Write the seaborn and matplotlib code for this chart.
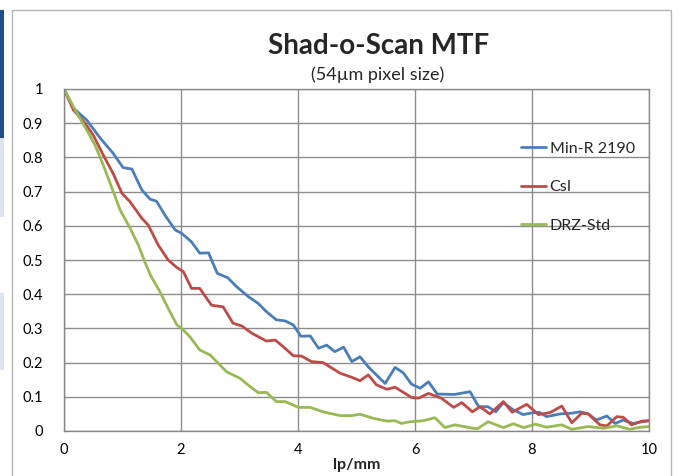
import numpy as np
import pandas as pd
import matplotlib
matplotlib.use("Agg")
import matplotlib.pyplot as plt
from matplotlib.patches import Rectangle
import seaborn as sns

# ---- data ----
minr_x = [0.00, 0.16, 0.39, 0.62, 0.84, 1.01, 1.16, 1.33, 1.47, 1.58, 1.73, 1.90, 2.01, 2.18, 2.32,
          2.47, 2.62, 2.80, 2.95, 3.15, 3.32, 3.46, 3.63, 3.78, 3.92, 4.05, 4.21, 4.35, 4.49, 4.63,
          4.78, 4.92, 5.06, 5.20, 5.34, 5.49, 5.66, 5.80, 5.94, 6.09, 6.23, 6.38, 6.68, 6.94, 7.09,
          7.25, 7.38, 7.51, 7.68, 7.85, 7.97, 8.12, 8.25, 8.48, 8.68, 8.82, 8.96, 9.10, 9.28, 9.42,
          9.56, 9.73, 9.88, 10.0]
minr_y = [1.000, 0.944, 0.909, 0.856, 0.812, 0.770, 0.766, 0.705, 0.678, 0.672, 0.630, 0.588, 0.578,
          0.553, 0.520, 0.521, 0.461, 0.448, 0.422, 0.393, 0.373, 0.349, 0.325, 0.322, 0.310, 0.277,
          0.278, 0.242, 0.251, 0.232, 0.245, 0.203, 0.217, 0.188, 0.164, 0.139, 0.186, 0.170, 0.137,
          0.125, 0.144, 0.108, 0.107, 0.115, 0.071, 0.071, 0.056, 0.083, 0.062, 0.048, 0.052, 0.055,
          0.042, 0.050, 0.052, 0.056, 0.050, 0.032, 0.044, 0.022, 0.032, 0.022, 0.027, 0.030]

csi_x = [0.00, 0.16, 0.36, 0.50, 0.67, 0.84, 0.99, 1.13, 1.33, 1.44, 1.61, 1.78, 1.93, 2.04, 2.18,
         2.32, 2.52, 2.72, 2.89, 3.04, 3.21, 3.46, 3.61, 3.75, 3.92, 4.06, 4.23, 4.43, 4.72, 4.92,
         5.06, 5.20, 5.34, 5.52, 5.66, 5.94, 6.06, 6.23, 6.45, 6.66, 6.80, 6.98, 7.11, 7.28, 7.51,
         7.66, 7.91, 8.11, 8.31, 8.51, 8.68, 8.85, 8.96, 9.16, 9.28, 9.45, 9.56, 9.70, 9.88, 10.0]
csi_y = [1.000, 0.939, 0.900, 0.865, 0.807, 0.753, 0.695, 0.670, 0.622, 0.602, 0.544, 0.500, 0.478,
         0.466, 0.417, 0.417, 0.368, 0.363, 0.315, 0.307, 0.286, 0.263, 0.266, 0.246, 0.220, 0.219,
         0.203, 0.200, 0.169, 0.157, 0.147, 0.164, 0.135, 0.122, 0.128, 0.098, 0.096, 0.110, 0.096,
         0.069, 0.083, 0.056, 0.071, 0.050, 0.086, 0.055, 0.078, 0.048, 0.054, 0.073, 0.024, 0.052,
         0.050, 0.018, 0.015, 0.042, 0.040, 0.018, 0.029, 0.030]

drz_x = [0.00, 0.19, 0.39, 0.53, 0.67, 0.82, 0.96, 1.13, 1.27, 1.38, 1.48, 1.64, 1.78, 1.93, 2.01,
         2.15, 2.32, 2.50, 2.78, 3.01, 3.18, 3.32, 3.46, 3.63, 3.78, 4.01, 4.21, 4.43, 4.72, 4.92,
         5.06, 5.29, 5.52, 5.66, 5.77, 5.91, 6.14, 6.34, 6.51, 6.68, 7.06, 7.25, 7.51, 7.68, 7.86,
         8.06, 8.25, 8.51, 8.68, 8.96, 9.22, 9.45, 9.67, 9.85, 10.0]
drz_y = [1.000, 0.939, 0.880, 0.836, 0.778, 0.710, 0.646, 0.593, 0.544, 0.495, 0.455, 0.407, 0.359,
         0.310, 0.300, 0.276, 0.237, 0.222, 0.173, 0.154, 0.130, 0.112, 0.113, 0.086, 0.086, 0.069,
         0.069, 0.056, 0.045, 0.045, 0.049, 0.037, 0.029, 0.030, 0.022, 0.027, 0.030, 0.039, 0.010,
         0.018, 0.006, 0.027, 0.010, 0.021, 0.010, 0.020, 0.011, 0.018, 0.005, 0.013, 0.008, 0.015,
         0.005, 0.011, 0.013]

series_names = ["Min-R 2190", "CsI", "DRZ-Std"]
series_colors = ["#4a7ebb", "#be4b48", "#98b954"]
x_ticks = [0, 2, 4, 6, 8, 10]
y_ticks = [0, 0.1, 0.2, 0.3, 0.4, 0.5, 0.6, 0.7, 0.8, 0.9, 1]
y_tick_labels = ["0", "0.1", "0.2", "0.3", "0.4", "0.5", "0.6", "0.7", "0.8", "0.9", "1"]
title = "Shad-o-Scan MTF"
subtitle = "(54\u00b5m pixel size)"
x_label = "lp/mm"

df = pd.concat([
    pd.DataFrame({"x": minr_x, "y": minr_y, "series": series_names[0]}),
    pd.DataFrame({"x": csi_x, "y": csi_y, "series": series_names[1]}),
    pd.DataFrame({"x": drz_x, "y": drz_y, "series": series_names[2]}),
], ignore_index=True)

sns.set_style("white")
plt.rcParams["font.family"] = ["Lato", "DejaVu Sans"]

W, H = 682, 476
fig = plt.figure(figsize=(W / 100, H / 100), dpi=100)
fig.patch.set_facecolor("white")

def fx(px):
    return px / W

def fy(py):
    return 1 - py / H

# decorative frame / side bars from the source slide
fig.add_artist(Rectangle((fx(12), fy(480)), fx(671) - fx(12), fy(10) - fy(480),
                         transform=fig.transFigure, fill=False, edgecolor="#b4b4b4", linewidth=1.0))
fig.add_artist(Rectangle((0, fy(138)), fx(3.5), fy(10) - fy(138), transform=fig.transFigure,
                         facecolor="#1f4e8a", edgecolor="none"))
fig.add_artist(Rectangle((0, fy(217)), fx(3.5), fy(138) - fy(217), transform=fig.transFigure,
                         facecolor="#dbe5f1", edgecolor="none"))
fig.add_artist(Rectangle((0, fy(370)), fx(3.5), fy(293) - fy(370), transform=fig.transFigure,
                         facecolor="#dbe5f1", edgecolor="none"))

L, R, T, B = 64, 649, 89, 431
ax = fig.add_axes([fx(L), fy(B), fx(R) - fx(L), fy(T) - fy(B)])

sns.lineplot(data=df, x="x", y="y", hue="series", hue_order=series_names,
             palette=series_colors, estimator=None, sort=False, linewidth=2.0, ax=ax)

ax.set_xlim(0, 10)
ax.set_ylim(0, 1)
ax.set_xticks(x_ticks)
ax.set_xticklabels([str(t) for t in x_ticks])
ax.set_yticks(y_ticks)
ax.set_yticklabels(y_tick_labels)
ax.grid(True, color="#8c8c8c", linewidth=1.0)
ax.set_axisbelow(True)
for s in ["top", "right"]:
    ax.spines[s].set_color("#8c8c8c")
    ax.spines[s].set_linewidth(1.0)
for s in ["left", "bottom"]:
    ax.spines[s].set_color("#868686")
    ax.spines[s].set_linewidth(1.0)
ax.tick_params(axis="both", which="both", direction="out", length=4, width=1,
               color="#868686", labelsize=10.5, labelcolor="black")
ax.tick_params(axis="x", pad=5)
ax.tick_params(axis="y", pad=11)
ax.set_ylabel("")
ax.set_xlabel(x_label, fontsize=11.5, fontweight="bold", labelpad=0)

leg = ax.legend(loc="upper left", bbox_to_anchor=(0.781, 0.847), frameon=False,
                fontsize=11.5, handlelength=1.6, handletextpad=0.2, labelspacing=1.53,
                borderpad=0, borderaxespad=0)
for line in leg.get_lines():
    line.set_linewidth(2.0)

fig.text(fx(379), fy(46), title, ha="center", va="center", fontsize=20, fontweight="bold")
fig.text(fx(378), fy(75), subtitle, ha="center", va="center", fontsize=13)

fig.savefig("out.png", dpi=100)
